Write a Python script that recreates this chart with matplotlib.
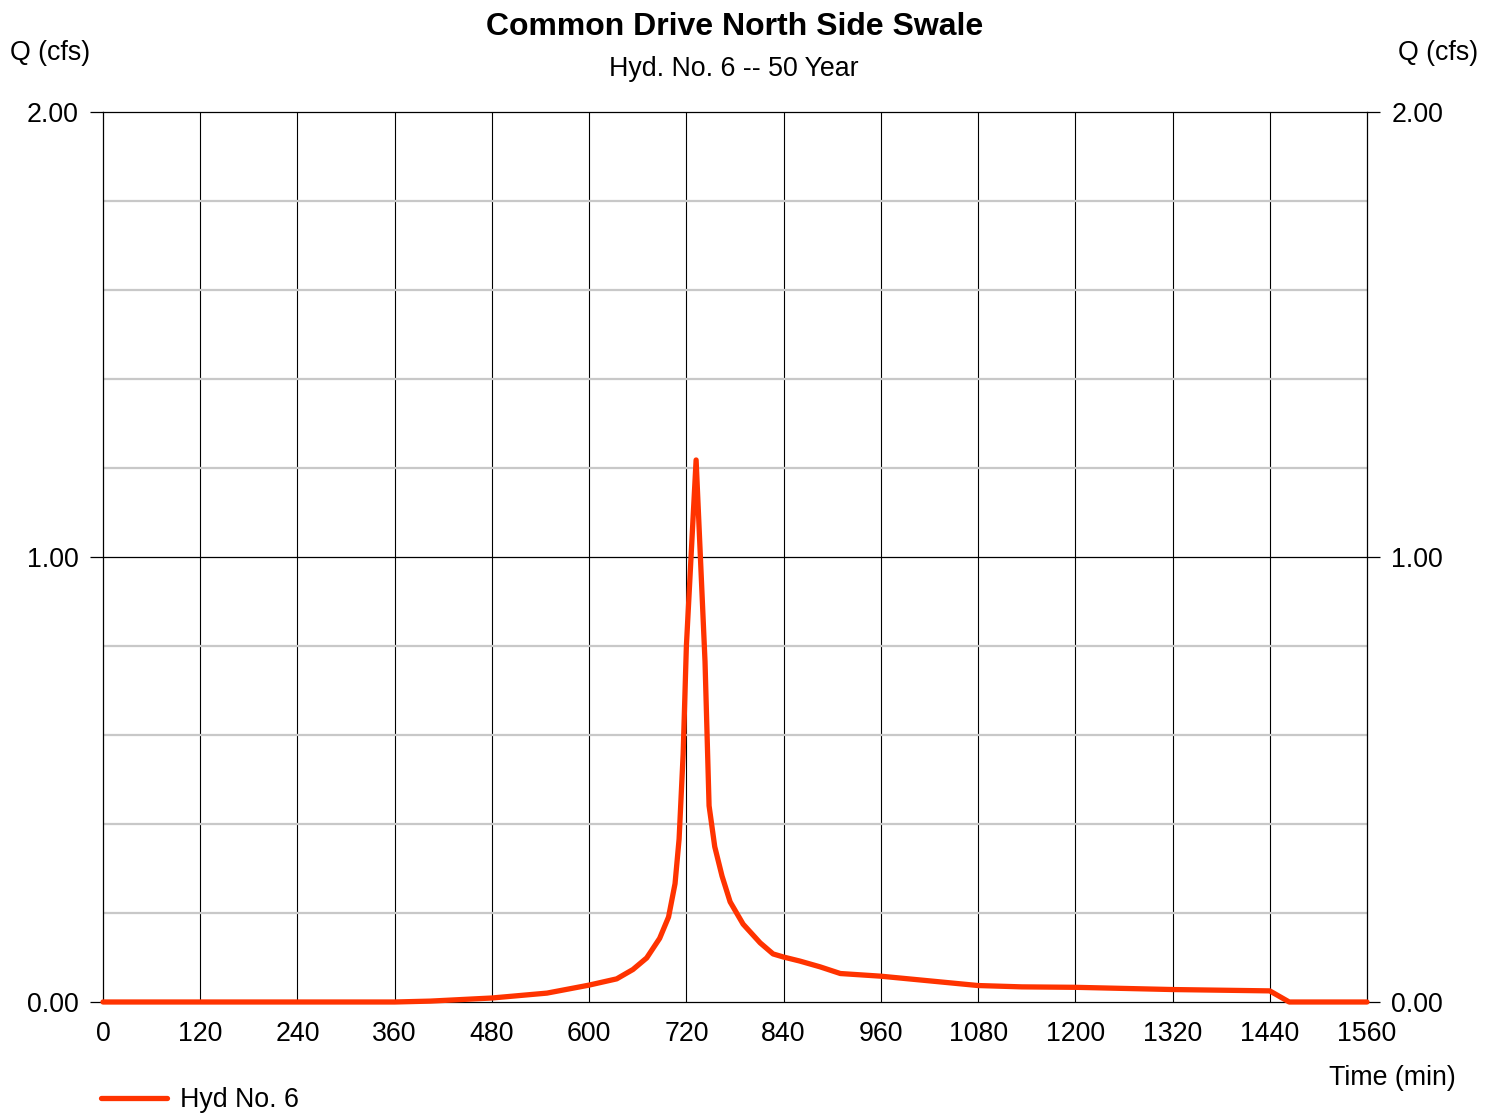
import matplotlib
matplotlib.use("Agg")
import matplotlib.pyplot as plt
import numpy as np

plt.rcParams['font.family'] = ['Liberation Sans', 'DejaVu Sans']

# hydrograph values
time_min = [0, 360, 404, 480, 548, 600, 634, 654, 671, 687, 698, 706, 711, 716,
            720, 732, 743, 748, 755, 764, 774, 790, 811, 827, 840, 860, 885, 910,
            960, 1080, 1134, 1200, 1320, 1440, 1464, 1560]
flow_cfs = [0, 0, 0.002, 0.009, 0.020, 0.038, 0.052, 0.073, 0.099, 0.143, 0.191,
            0.266, 0.366, 0.557, 0.80, 1.218, 0.765, 0.441, 0.349, 0.283, 0.225,
            0.175, 0.133, 0.108, 0.101, 0.092, 0.079, 0.064, 0.058, 0.037, 0.034,
            0.033, 0.028, 0.025, 0, 0]
x_ticks = list(range(0, 1561, 120))
y_ticks = [0, 1, 2]
y_labels = ['0.00', '1.00', '2.00']

W, H = 1496, 1114
fig = plt.figure(figsize=(W / 100, H / 100), dpi=100)
ax = fig.add_axes([103 / W, 112 / H, (1367 - 103) / W, (1002 - 112) / H])

fs = 19.3
# grid
for x in x_ticks[1:-1]:
    ax.axvline(x, color='black', lw=0.8, zorder=1)
for y in np.arange(0.2, 2.0, 0.2):
    if abs(y - 1.0) < 1e-6:
        ax.axhline(y, color='black', lw=0.9, zorder=1)
    else:
        ax.axhline(y, color='#c8c8c8', lw=1.6, zorder=1)

ax.plot(time_min, flow_cfs, color='#ff3300', lw=3.8, solid_capstyle='round',
        solid_joinstyle='round', clip_on=False, zorder=3, label='Hyd No. 6')

ax.set_xlim(0, 1560)
ax.set_ylim(0, 2)
ax.set_xticks(x_ticks)
ax.set_xticklabels([str(t) for t in x_ticks], fontsize=fs)
ax.tick_params(axis='x', length=0, pad=14)
ax.set_yticks(y_ticks)
ax.set_yticklabels(y_labels, fontsize=fs)
ax.tick_params(axis='y', direction='out', length=9.5, width=0.9, pad=8,
               left=True, right=True, labelleft=True, labelright=True)
for s in ax.spines.values():
    s.set_color('black')
    s.set_linewidth(0.9)

def fx(px):
    return px / W

def fy(py):
    return 1 - py / H

fig.text(fx(735), fy(27), 'Common Drive North Side Swale', fontsize=23,
         fontweight='bold', ha='center', va='center')
fig.text(fx(734), fy(69), 'Hyd. No. 6 -- 50 Year', fontsize=fs,
         ha='center', va='center')
fig.text(fx(10), fy(53), 'Q (cfs)', fontsize=fs, ha='left', va='center')
fig.text(fx(1478), fy(53), 'Q (cfs)', fontsize=fs, ha='right', va='center')
fig.text(fx(1456), fy(1078), 'Time (min)', fontsize=fs, ha='right', va='center')

fig.legend(loc='center left', bbox_to_anchor=(fx(101), fy(1100)), frameon=False,
           fontsize=fs, handlelength=2.45, handletextpad=0.5, borderaxespad=0,
           borderpad=0)

fig.savefig('out.png', dpi=100)
